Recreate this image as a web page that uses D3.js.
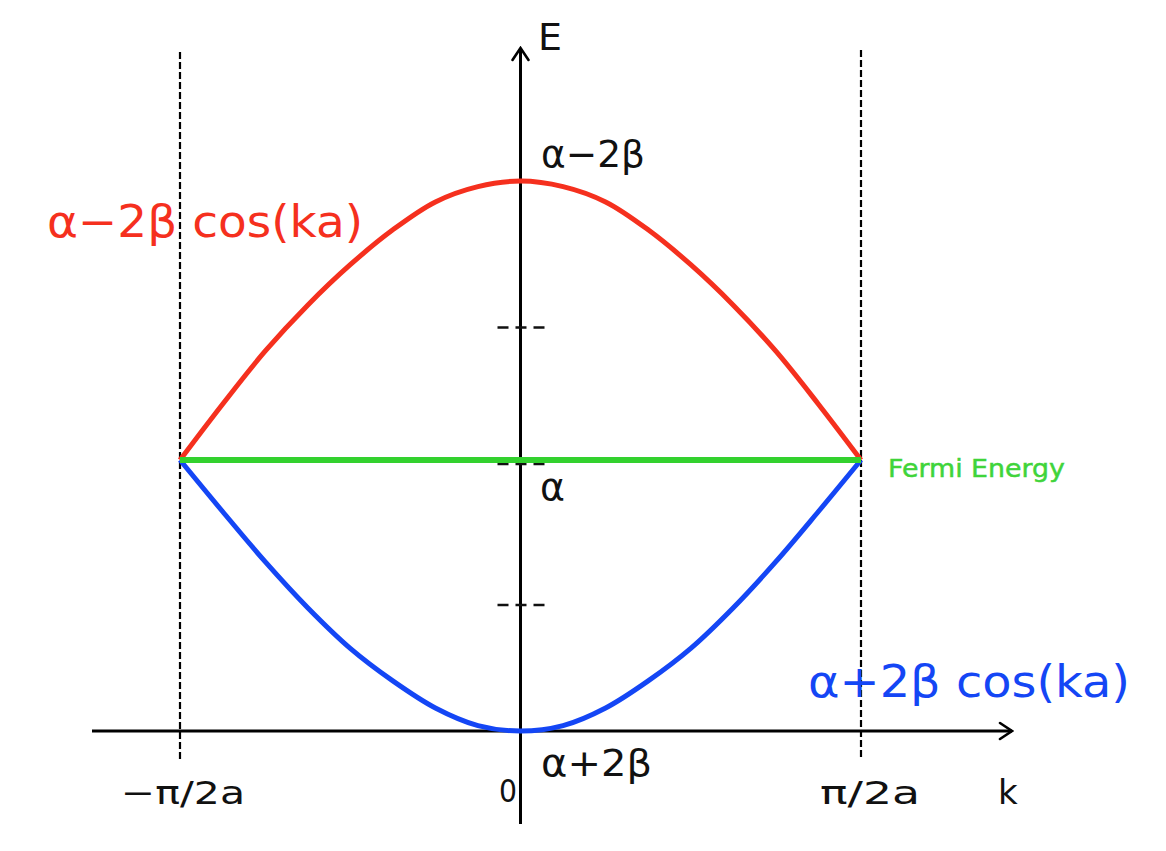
<!DOCTYPE html>
<html><head><meta charset="utf-8">
<script src="https://cdn.jsdelivr.net/npm/d3@7"></script>
<style>body{margin:0;background:#fff;} svg{display:block;}</style>
</head><body>
<svg id="c" width="1166" height="851"></svg>
<script>
// k in units of pi/2a, E in units of |beta| relative to alpha
const kValues = [-1, -0.875, -0.75, -0.625, -0.5, -0.375, -0.25, -0.125, 0, 0.125, 0.25, 0.375, 0.5, 0.625, 0.75, 0.875, 1];
const upperBand = [0, 0.40, 0.78, 1.11, 1.40, 1.65, 1.85, 1.96, 2.0, 1.96, 1.85, 1.65, 1.40, 1.11, 0.78, 0.40, 0];
const lowerBand = [0, -0.38, -0.75, -1.09, -1.39, -1.63, -1.83, -1.96, -2.0, -1.96, -1.83, -1.63, -1.39, -1.09, -0.75, -0.38, 0];
const fermiLevel = 0;
const eTicks = [0.95, -0.03, -1.07];
const kTickValues = [-1, 0, 1];
const kTickLabels = ["\u2212\u03c0/2a", "0", "\u03c0/2a"];
const upperLabel = "\u03b1\u22122\u03b2 cos(ka)";
const lowerLabel = "\u03b1+2\u03b2 cos(ka)";
const eLevelLabels = ["\u03b1\u22122\u03b2", "\u03b1", "\u03b1+2\u03b2"];
const eLevelValues = [2, 0, -2];

const svg = d3.select("#c");
const x = d3.scaleLinear().domain([-1, 1]).range([180, 861]);
const y = d3.scaleLinear().domain([-2, 0, 2]).range([731, 460, 181]);
const font = "'DejaVu Sans', 'Noto Sans', sans-serif";

// arrow markers
const defs = svg.append("defs");
defs.append("marker").attr("id","arr").attr("viewBox","0 0 20 20").attr("refX",18).attr("refY",10)
  .attr("markerWidth",20).attr("markerHeight",20).attr("markerUnits","userSpaceOnUse").attr("orient","auto")
  .append("path").attr("d","M6,2 L18,10 L6,18").attr("fill","none").attr("stroke","#000").attr("stroke-width",2.6).attr("stroke-linecap","round");

// dashed Brillouin zone boundaries
[[-1, 52, 760], [1, 50, 757]].forEach(([k, y0, y1]) => {
  svg.append("line").attr("x1", x(k)).attr("x2", x(k)).attr("y1", y0).attr("y2", y1)
    .attr("stroke","#000").attr("stroke-width",2.2).attr("stroke-dasharray","7,3");
});

// axes
const x0 = x(0);
svg.append("line").attr("x1", 92).attr("x2", 1012).attr("y1", y(-2)).attr("y2", y(-2))
  .attr("stroke","#000").attr("stroke-width",3).attr("marker-end","url(#arr)");
svg.append("line").attr("x1", x0).attr("x2", x0).attr("y1", 824).attr("y2", 48)
  .attr("stroke","#000").attr("stroke-width",3).attr("marker-end","url(#arr)");

// dashed ticks on E axis
eTicks.forEach(v => {
  svg.append("line").attr("x1", x0 - 23).attr("x2", x0 + 26).attr("y1", y(v)).attr("y2", y(v))
    .attr("stroke","#111").attr("stroke-width",2.6).attr("stroke-dasharray","11,7");
});

// band curves
const pts = arr => kValues.map((k, i) => [x(k), y(arr[i])]);
const line = d3.line().curve(d3.curveCatmullRom.alpha(0.5));
svg.append("path").attr("d", line(pts(upperBand))).attr("fill","none").attr("stroke","#f5301e").attr("stroke-width",5);
svg.append("path").attr("d", line(pts(lowerBand))).attr("fill","none").attr("stroke","#1446f5").attr("stroke-width",5);

// Fermi level
svg.append("line").attr("x1", x(-1)).attr("x2", x(1)).attr("y1", y(fermiLevel)).attr("y2", y(fermiLevel))
  .attr("stroke","#33d12e").attr("stroke-width",6);
svg.append("text").attr("x", 888).attr("y", 477).text("Fermi Energy")
  .attr("font-family", font).attr("font-size", 25).attr("fill","#3fd43a").attr("stroke","#3fd43a").attr("stroke-width",0.5)
  .attr("textLength",177).attr("lengthAdjust","spacingAndGlyphs");

// axis names
svg.append("text").attr("x", 538).attr("y", 50).text("E").attr("font-family", font).attr("font-size", 38).attr("fill","#111");
svg.append("text").attr("x", 998).attr("y", 804).text("k").attr("font-family", font).attr("font-size", 34).attr("fill","#111");

// energy level labels
const levelPos = [[541, 167, 104], [540, 500, 25], [541, 776, 111]];
eLevelLabels.forEach((t, i) => {
  svg.append("text").attr("x", levelPos[i][0]).attr("y", levelPos[i][1]).text(t)
    .attr("font-family", font).attr("font-size", 38).attr("fill","#111")
    .attr("textLength", levelPos[i][2]).attr("lengthAdjust","spacingAndGlyphs");
});

// k tick labels
const kLabPos = [[183, 804, 124, 32], [508, 802, 18, 32], [870, 804, 100, 32]];
kTickValues.forEach((k, i) => {
  svg.append("text").attr("x", kLabPos[i][0]).attr("y", kLabPos[i][1]).attr("text-anchor","middle").text(kTickLabels[i])
    .attr("font-family", font).attr("font-size", kLabPos[i][3]).attr("fill","#111")
    .attr("textLength", kLabPos[i][2]).attr("lengthAdjust","spacingAndGlyphs");
});

// band labels
svg.append("text").attr("x", 47).attr("y", 237).text(upperLabel)
  .attr("font-family", font).attr("font-size", 44).attr("fill","#f5301e").attr("textLength",316).attr("lengthAdjust","spacingAndGlyphs");
svg.append("text").attr("x", 808).attr("y", 697).text(lowerLabel)
  .attr("font-family", font).attr("font-size", 44).attr("fill","#1446f5").attr("textLength",322).attr("lengthAdjust","spacingAndGlyphs");
</script>
</body></html>
